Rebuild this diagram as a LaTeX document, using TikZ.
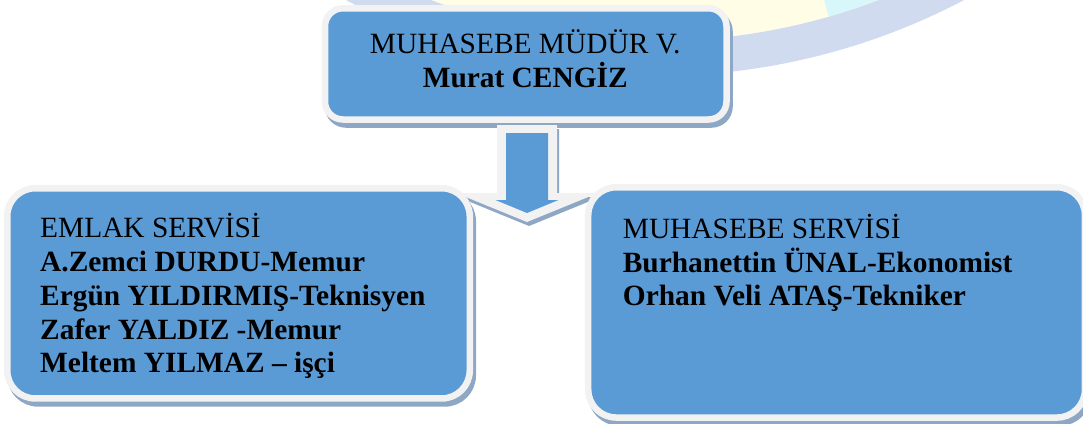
\documentclass[tikz,border=0pt]{standalone}
\usepackage{fontspec}
\setmainfont{Liberation Serif}
\usetikzlibrary{calc,backgrounds}
\definecolor{kutumavi}{HTML}{5B9BD5}
\definecolor{cerceve}{HTML}{F2F2F2}
\definecolor{golge}{HTML}{8EA7C4}
\definecolor{filigranmavi}{HTML}{D0DBF0}
\definecolor{filigransari}{HTML}{FFFDE6}
\definecolor{filigrancyan}{HTML}{D8F7FB}

\begin{document}
\begin{tikzpicture}[x=1pt,y=-1pt,
	kutu/.style={shape=rectangle,fill=kutumavi,draw=cerceve,line width=6.5pt,outer sep=0pt,inner sep=0pt},
	yazi/.style={inner sep=0pt,font=\fontsize{29.4}{33.7}\selectfont,text=black}]
	\useasboundingbox (0,0) rectangle (1083,423);
	\clip (0,0) rectangle (1083,423);
	% kutular
	\node[kutu,rounded corners=18pt,minimum width=401.5pt,minimum height=111.25pt] (mudur) at (525.75,63.875) {};
	\node[kutu,rounded corners=28pt,minimum width=462.5pt,minimum height=210.2pt] (emlak) at (238.5,293.35) {};
	\node[kutu,rounded corners=28pt,minimum width=496.75pt,minimum height=230.25pt] (muhasebe) at (836.6,302.4) {};
	% yazilar
	\node[yazi,align=center,anchor=north] (mudurYazi) at ([shift={(-0.5,18.05)}]mudur.north)
		{\rule{0pt}{27pt}MUHASEBE MÜDÜR V.\\\textbf{Murat CENGİZ}};
	\node[yazi,align=left,anchor=north west] (emlakYazi) at ([shift={(32.75,22.45)}]emlak.north west)
		{\rule{0pt}{27pt}EMLAK SERVİSİ\\\textbf{A.Zemci DURDU-Memur}\\\textbf{Ergün YILDIRMIŞ-Teknisyen}\\\textbf{Zafer YALDIZ -Memur}\\\textbf{Meltem YILMAZ – işçi}};
	\node[yazi,align=left,anchor=north west] (muhasebeYazi) at ([shift={(34.45,24.05)}]muhasebe.north west)
		{\rule{0pt}{27pt}MUHASEBE SERVİSİ\\\textbf{Burhanettin ÜNAL-Ekonomist}\\\textbf{Orhan Veli ATAŞ-Tekniker}};
	\begin{pgfonlayer}{background}
		% filigran
		\fill[filigransari] (655,-589.5) circle (630.5);
		\fill[filigrancyan,shift={(655,-589.5)}] (0,0) -- (30:630.5) arc (30:74:630.5) -- cycle;
		\fill[filigranmavi,even odd rule] (655,-589.5) circle (665.5) (655,-589.5) circle (630.5);
		% golgeler
		\foreach \k/\r in {mudur/18,emlak/28,muhasebe/28}
			\draw[golge,fill=golge,line width=6.5pt,rounded corners=\r pt] ([shift={(3,5)}]\k.north west) rectangle ([shift={(3,5)}]\k.south east);
		% ok
		\begin{scope}[shift={([shift={(1.25,5.5)}]mudur.south)}]
			\fill[golge,shift={(2,4)}] (-30,0) -- (30,0) -- (30,68) -- (71,68) -- (0,97) -- (-71,68) -- (-30,68) -- cycle;
			\fill[cerceve] (-30,0) -- (30,0) -- (30,68) -- (71,68) -- (0,97) -- (-71,68) -- (-30,68) -- cycle;
			\fill[kutumavi] (-21,8) -- (21,8) -- (21,75) -- (31.5,75) -- (0,88) -- (-31.5,75) -- (-21,75) -- cycle;
		\end{scope}
	\end{pgfonlayer}
\end{tikzpicture}
\end{document}
